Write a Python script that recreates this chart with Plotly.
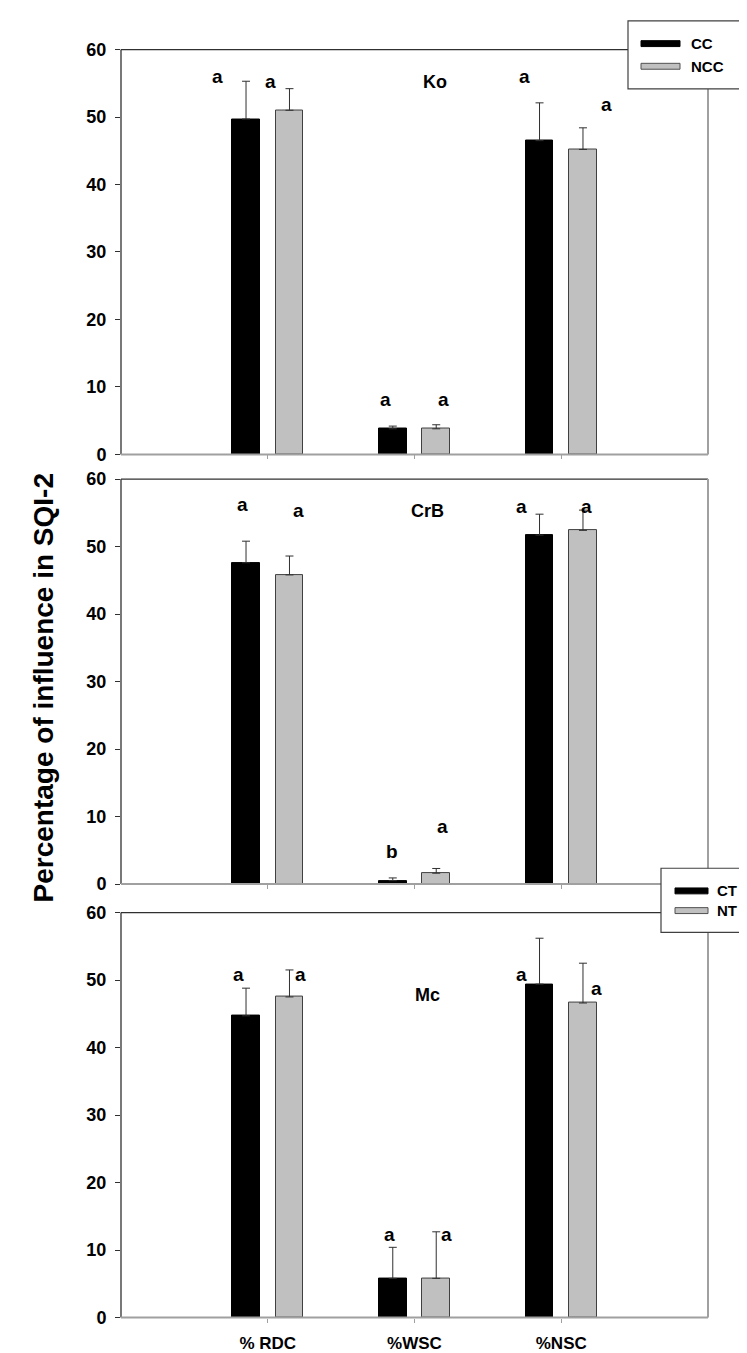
import plotly.graph_objects as go

# --- data ---
categories = ["% RDC", "%WSC", "%NSC"]
panel_names = ["Ko", "CrB", "Mc"]

ko_dark = [49.7, 3.8, 46.5]
ko_dark_err = [5.6, 0.4, 5.6]
ko_grey = [51.0, 3.8, 45.2]
ko_grey_err = [3.2, 0.6, 3.2]

crb_dark = [47.6, 0.5, 51.7]
crb_dark_err = [3.2, 0.4, 3.1]
crb_grey = [45.8, 1.6, 52.4]
crb_grey_err = [2.8, 0.7, 3.0]

mc_dark = [44.7, 5.8, 49.4]
mc_dark_err = [4.1, 4.6, 6.8]
mc_grey = [47.5, 5.8, 46.6]
mc_grey_err = [4.0, 6.9, 5.9]

ko_letters = ["a", "a", "a", "a", "a", "a"]
crb_letters = ["a", "a", "b", "a", "a", "a"]
mc_letters = ["a", "a", "a", "a", "a", "a"]

legend1 = ["CC", "NCC"]
legend2 = ["CT", "NT"]

y_ticks = [0, 10, 20, 30, 40, 50, 60]

# --- placement (style, not data) ---
W, H = 747, 1353
FONT = "Liberation Sans, Arial, sans-serif"
DARK = "#303030"
GREY_LINE = "#a0a0a0"
BAR_W = 0.19
BAR_OFF = 0.148

x_dom = [113 / W, 700 / W]
panels_px = [(32, 443), (468, 879), (908, 1319)]

letter_x = [
    [0.66, 1.02, 1.80, 2.20, 2.75, 3.31],
    [0.83, 1.21, 1.85, 2.19, 2.73, 3.17],
    [0.80, 1.22, 1.83, 2.22, 2.73, 3.24],
]
letter_y = [
    [56.0, 55.2, 8.2, 8.2, 56.0, 51.8],
    [56.2, 55.3, 4.8, 8.5, 56.0, 56.0],
    [50.8, 50.8, 12.3, 12.3, 50.8, 48.8],
]
title_pos = [(2.14, 55.2), (2.09, 55.3), (2.09, 47.8)]


def py(px):
    return 1 - px / H


def pxx(px):
    return px / W


fig = go.Figure()
xs = [1, 2, 3]
panel_data = [
    (ko_dark, ko_dark_err, ko_grey, ko_grey_err, ko_letters),
    (crb_dark, crb_dark_err, crb_grey, crb_grey_err, crb_letters),
    (mc_dark, mc_dark_err, mc_grey, mc_grey_err, mc_letters),
]

shapes = []
annotations = []

for i, (dk, dke, gr, gre, lets) in enumerate(panel_data):
    n = "" if i == 0 else str(i + 1)
    xa, ya = "x" + n, "y" + n
    fig.add_trace(go.Bar(
        x=xs, y=dk, width=BAR_W, offset=-BAR_OFF - BAR_W / 2,
        marker=dict(color="black", line=dict(color="black", width=1)),
        error_y=dict(type="data", array=dke, arrayminus=[0, 0, 0],
                     symmetric=False, color=DARK, thickness=1, width=4),
        xaxis=xa, yaxis=ya, showlegend=False,
    ))
    fig.add_trace(go.Bar(
        x=xs, y=gr, width=BAR_W, offset=BAR_OFF - BAR_W / 2,
        marker=dict(color="#c0c0c0", line=dict(color="#404040", width=1)),
        error_y=dict(type="data", array=gre, arrayminus=[0, 0, 0],
                     symmetric=False, color=DARK, thickness=1, width=4),
        xaxis=xa, yaxis=ya, showlegend=False,
    ))

    top, bot = panels_px[i]
    fig.update_layout(**{
        "xaxis" + n: dict(
            domain=x_dom, range=[0, 4], anchor=ya,
            tickvals=xs, ticktext=categories,
            showticklabels=(i == 2),
            ticks="outside", ticklen=4, tickcolor=GREY_LINE,
            ticklabelstandoff=6,
            showgrid=False, zeroline=False, showline=False,
            tickfont=dict(family=FONT, size=17, color="black", weight="bold"),
            fixedrange=True,
        ),
        "yaxis" + n: dict(
            domain=[py(bot), py(top)], range=[0, 60], anchor=xa,
            tickvals=y_ticks, ticks="outside", ticklen=5, tickcolor=DARK,
            ticklabelstandoff=5,
            showgrid=False, zeroline=False, showline=False,
            tickfont=dict(family=FONT, size=18, color="black", weight="bold"),
            fixedrange=True,
        ),
    })

    # frame: left/top dark, right/bottom grey
    x0, x1 = pxx(113), pxx(700)
    shapes += [
        dict(type="line", xref="paper", yref="paper", x0=x0, x1=x0,
             y0=py(bot), y1=py(top), line=dict(color=DARK, width=1.3)),
        dict(type="line", xref="paper", yref="paper", x0=x0, x1=x1,
             y0=py(top), y1=py(top), line=dict(color=DARK, width=1.3)),
        dict(type="line", xref="paper", yref="paper", x0=x1, x1=x1,
             y0=py(bot), y1=py(top), line=dict(color=GREY_LINE, width=2)),
        dict(type="line", xref="paper", yref="paper", x0=x0, x1=x1,
             y0=py(bot), y1=py(bot), line=dict(color=GREY_LINE, width=2)),
    ]

    for lx, ly, txt in zip(letter_x[i], letter_y[i], lets):
        annotations.append(dict(
            x=lx, y=ly, xref=xa, yref=ya, text=txt, showarrow=False,
            font=dict(family=FONT, size=19, color="black", weight="bold"),
        ))
    tx, ty = title_pos[i]
    annotations.append(dict(
        x=tx, y=ty, xref=xa, yref=ya, text=panel_names[i], showarrow=False,
        font=dict(family=FONT, size=18, color="black", weight="bold"),
    ))


def add_legend(box, labels, sw_x, sw_ys, label_x, fs):
    bx0, bx1, by0, by1 = box
    shapes.append(dict(type="rect", xref="paper", yref="paper",
                       x0=pxx(bx0), x1=pxx(bx1), y0=py(by1), y1=py(by0),
                       fillcolor="white", line=dict(color="#404040", width=1.2),
                       layer="above"))
    colors = [("black", "black"), ("#c0c0c0", "#505050")]
    for (fc, lc), yy, lab in zip(colors, sw_ys, labels):
        shapes.append(dict(type="rect", xref="paper", yref="paper",
                           x0=pxx(sw_x[0]), x1=pxx(sw_x[1]),
                           y0=py(yy + 3), y1=py(yy - 3),
                           fillcolor=fc, line=dict(color=lc, width=1),
                           layer="above"))
        annotations.append(dict(
            x=pxx(label_x), y=py(yy), xref="paper", yref="paper", text=lab,
            xanchor="left", yanchor="middle", showarrow=False,
            font=dict(family=FONT, size=fs, color="black", weight="bold"),
        ))


add_legend((620, 733, 3, 72), legend1, (633, 672), (26, 49), 681, 15)
add_legend((653, 744, 863, 928), legend2, (667, 700), (886, 906), 707, 15)

annotations.append(dict(
    x=pxx(18), y=py(680), xref="paper", yref="paper",
    text="Percentage of influence in SQI-2", textangle=-90, showarrow=False,
    font=dict(family=FONT, size=28, color="black", weight="bold"),
))

fig.update_layout(
    width=W, height=H, autosize=False,
    margin=dict(l=0, r=0, t=0, b=0),
    paper_bgcolor="white", plot_bgcolor="white",
    barmode="overlay", bargap=0,
    shapes=shapes, annotations=annotations,
    showlegend=False,
)

fig.write_html("out.html")
